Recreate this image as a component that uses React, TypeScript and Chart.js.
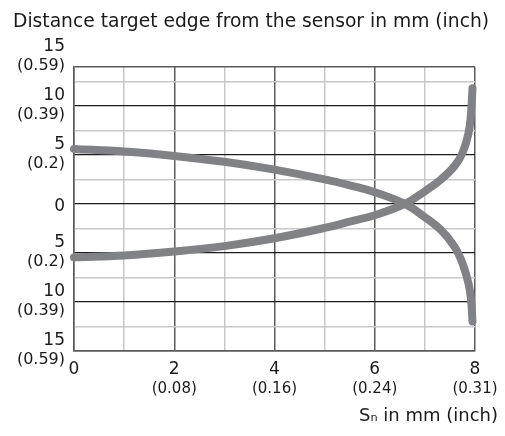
import React, { useEffect, useRef } from 'react';
import { Chart, registerables } from 'chart.js';

Chart.register(...registerables);

// ---- text ----
const TITLE = 'Distance target edge from the sensor in mm (inch)';
const X_TITLE = 'S\u2099 in mm (inch)';

// ---- x axis (Sn in mm) ----
const xGridValues = [0, 1, 2, 3, 4, 5, 6, 7, 8];
const xMmLabels: Record<string, string> = { '0': '0', '2': '2', '4': '4', '6': '6', '8': '8' };
const xInchLabels: Record<string, string> = { '2': '(0.08)', '4': '(0.16)', '6': '(0.24)', '8': '(0.31)' };

// ---- y axis (distance target edge in mm) ----
const yGridValues = [-15, -12.5, -10, -7.5, -5, -2.5, 0, 2.5, 5, 7.5, 10, 12.5, 14, 15];
const yMmLabels: Record<string, string> = { '15': '15', '10': '10', '5': '5', '-5': '5', '-10': '10', '-15': '15' };
const yInchLabels: Record<string, string> = { '15': '(0.59)', '10': '(0.39)', '5': '(0.2)', '-5': '(0.2)', '-10': '(0.39)', '-15': '(0.59)' };
const Y_MIN = -15;
const Y_MAX = 14;

// ---- curves ----
const curveX = [0, 1, 2, 3, 4, 5, 5.5, 6, 6.6, 7, 7.32, 7.59, 7.75, 7.87, 7.92, 7.95];
const fallingY = [5.6, 5.35, 4.9, 4.3, 3.5, 2.5, 1.9, 1.2, 0, -1.35, -2.65, -4.35, -6.05, -8.1, -9.7, -12.0];
const risingY = [-5.45, -5.25, -4.85, -4.3, -3.5, -2.45, -1.8, -1.15, 0, 1.3, 2.5, 3.86, 5.2, 7.2, 9.2, 11.8];

const FONT = "'DejaVu Sans', sans-serif";
const TEXT = '#1a1a1a';
const GRID_DARK = '#5b5b5b';
const GRID_BLACK = '#1c1c1c';
const GRID_LIGHT = '#c8c8c8';
const CURVE = '#808285';

const alignInchAxis = {
  id: 'alignInchAxis',
  afterLayout(chart: any) {
    const y = chart.scales.y;
    const y2 = chart.scales.y2;
    if (y && y2) y2.left = y.left;
  },
};

export default function App() {
  const ref = useRef<HTMLCanvasElement>(null);

  useEffect(() => {
    const canvas = ref.current;
    if (!canvas) return;

    const line = (ys: number[]) => ({
      data: curveX.map((x, i) => ({ x, y: ys[i] })),
      borderColor: CURVE,
      borderWidth: 8,
      borderCapStyle: 'round' as const,
      borderJoinStyle: 'round' as const,
      pointRadius: 0,
      tension: 0.4,
      fill: false,
      clip: false as const,
    });

    const chart = new Chart(canvas, {
      type: 'line',
      data: { datasets: [line(fallingY), line(risingY)] },
      plugins: [alignInchAxis],
      options: {
        animation: false,
        responsive: false,
        events: [],
        layout: { padding: { left: 13, right: 7, top: 0, bottom: 0 } },
        plugins: {
          legend: { display: false },
          tooltip: { enabled: false },
          title: {
            display: true,
            text: TITLE,
            align: 'start',
            color: TEXT,
            font: { family: FONT, size: 18.7, weight: 'normal', lineHeight: 1.2 },
            padding: { top: 11.3, bottom: 32.96 },
          },
          subtitle: {
            display: true,
            text: X_TITLE,
            position: 'bottom',
            align: 'end',
            color: TEXT,
            font: { family: FONT, size: 18, weight: 'normal', lineHeight: 1.2 },
            padding: { top: 4.7, bottom: 8.7 },
          },
        },
        scales: {
          x: {
            type: 'linear',
            axis: 'x',
            position: 'bottom',
            weight: 0,
            min: 0,
            max: 8,
            afterBuildTicks: (s: any) => { s.ticks = xGridValues.map((v) => ({ value: v })); },
            grid: {
              color: (c: any) => (c.tick && c.tick.value % 2 === 0 ? GRID_DARK : GRID_LIGHT),
              lineWidth: 1.5,
              drawTicks: false,
              tickLength: 0,
            },
            border: { display: true, color: GRID_DARK, width: 1.5 },
            ticks: {
              autoSkip: false,
              maxRotation: 0,
              padding: 8.3,
              color: TEXT,
              font: { family: FONT, size: 17, lineHeight: 1.2 },
              callback: (v: any) => xMmLabels[String(v)] ?? '',
            },
            afterFit: (s: any) => { s.height = 28; s.paddingLeft = 0; s.paddingRight = 30; },
          },
          x2: {
            type: 'linear',
            axis: 'x',
            position: 'bottom',
            weight: 1,
            min: 0,
            max: 8,
            afterBuildTicks: (s: any) => { s.ticks = xGridValues.map((v) => ({ value: v })); },
            grid: { display: false, drawTicks: false, tickLength: 0 },
            border: { display: false },
            ticks: {
              autoSkip: false,
              maxRotation: 0,
              padding: 1.5,
              color: TEXT,
              font: { family: FONT, size: 15, lineHeight: 1.2 },
              callback: (v: any) => xInchLabels[String(v)] ?? '',
            },
            afterFit: (s: any) => { s.height = 22; s.paddingLeft = 0; s.paddingRight = 30; },
          },
          y: {
            type: 'linear',
            axis: 'y',
            position: 'left',
            weight: 1,
            min: Y_MIN,
            max: Y_MAX,
            afterBuildTicks: (s: any) => { s.ticks = yGridValues.map((v) => ({ value: v })); },
            grid: {
              color: (c: any) => {
                const v = c.tick ? c.tick.value : 0;
                if (v === 15) return 'rgba(0,0,0,0)';
                if (v === 14 || v === -15) return GRID_DARK;
                if (v % 5 === 0) return GRID_BLACK;
                return GRID_LIGHT;
              },
              lineWidth: (c: any) => {
                const v = c.tick ? c.tick.value : 0;
                if (v === 14 || v === -15) return 1.5;
                if (v % 5 === 0) return 1.2;
                return 1.5;
              },
              drawTicks: false,
              tickLength: 0,
            },
            border: { display: true, color: GRID_DARK, width: 1.5 },
            ticks: {
              autoSkip: false,
              padding: 9,
              labelOffset: -10.5,
              color: TEXT,
              font: { family: FONT, size: 17, lineHeight: 1.6 },
              callback: (v: any) => (v === 0 ? ['', '0'] : yMmLabels[String(v)] ?? ''),
            },
            afterFit: (s: any) => { s.width = 61; s.paddingTop = 0; s.paddingBottom = 0; },
          },
          y2: {
            type: 'linear',
            axis: 'y',
            position: 'left',
            weight: 0,
            min: Y_MIN,
            max: Y_MAX,
            afterBuildTicks: (s: any) => { s.ticks = yGridValues.map((v) => ({ value: v })); },
            grid: { display: false, drawTicks: false, tickLength: 0 },
            border: { display: false },
            ticks: {
              autoSkip: false,
              padding: 9,
              labelOffset: 9,
              color: TEXT,
              font: { family: FONT, size: 16, lineHeight: 1.2 },
              callback: (v: any) => yInchLabels[String(v)] ?? '',
            },
            afterFit: (s: any) => { s.width = 0; s.paddingTop = 0; s.paddingBottom = 0; },
          },
        },
      } as any,
    });

    return () => chart.destroy();
  }, []);

  return (
    <div style={{ position: 'fixed', left: 0, top: 0, width: 505, height: 436, background: '#ffffff' }}>
      <canvas ref={ref} width={505} height={436} style={{ display: 'block', width: 505, height: 436 }} />
    </div>
  );
}
